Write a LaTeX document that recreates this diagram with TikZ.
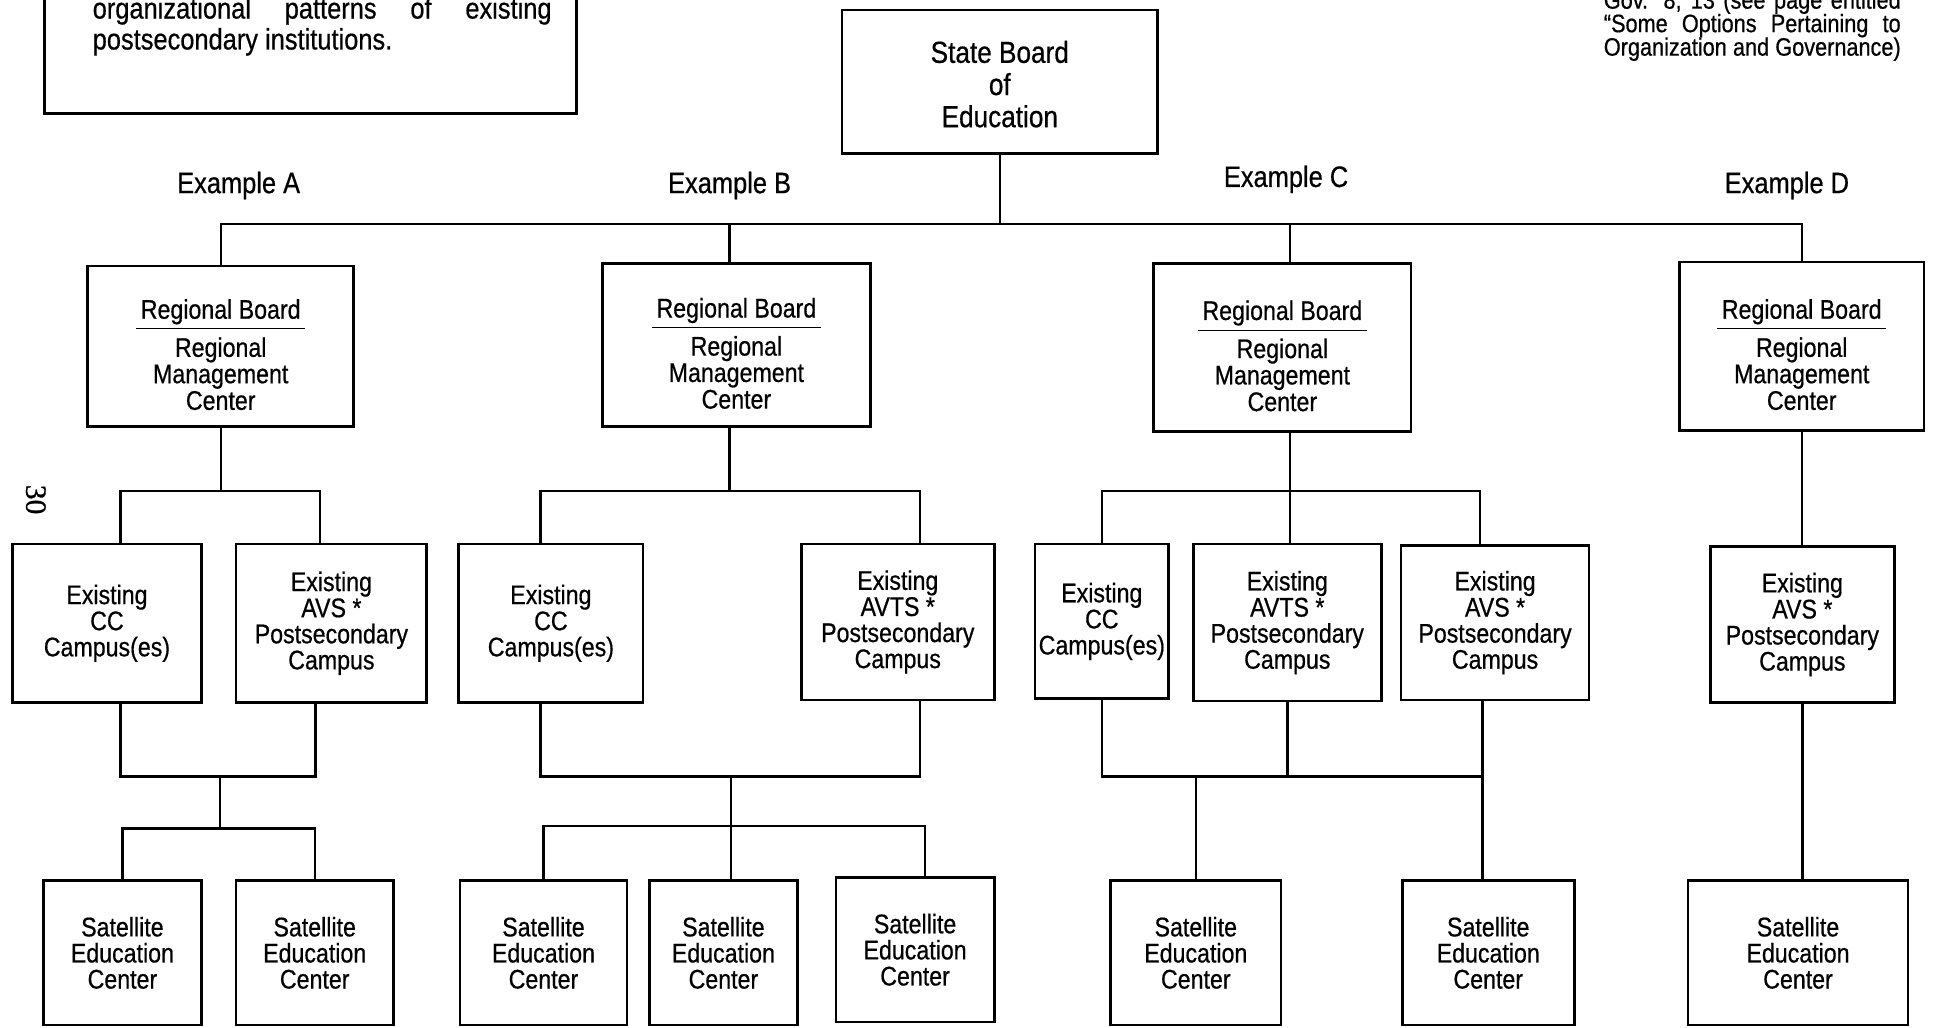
\documentclass[tikz,border=0pt]{standalone}
\usepackage{fontspec}
\setmainfont{Liberation Sans}[FakeStretch=0.86,FakeBold=0.6]
\newfontfamily\orgserif{Liberation Serif}[FakeBold=0.8]

\newcommand{\orgboxfont}{\fontsize{15.5}{15}\selectfont}
\newcommand{\orgstatefont}{\fontsize{17.5}{18.5}\selectfont}
\newcommand{\orgexfont}{\fontsize{17}{18}\selectfont}
\newcommand{\orgnotefont}{\fontsize{17}{18}\selectfont}
\newcommand{\orggovfont}{\fontsize{14.5}{14}\selectfont}
% lower the visible text of a box without changing its size
\newcommand{\orglower}[2]{\raisebox{-#1}[\height][\depth]{\begin{tabular}{@{\,}c@{\,}}#2\end{tabular}}}
\newcommand{\orgregtext}{\orglower{7pt}{Regional Board\\[1pt]\hline
  \rule{0pt}{16pt}Regional\\Management\\Center}}

\begin{document}
\begin{tikzpicture}[x=0.025cm,y=-0.025cm,line width=1.4pt,
    box/.style={draw,line width=1.5pt,inner sep=0pt,align=center,font=\orgboxfont},
    sized/.style 2 args={minimum width=#1*0.025cm,minimum height=#2*0.025cm},
    exlabel/.style={font=\orgexfont},
    note/.style={anchor=base west,inner sep=0pt,font=\orgnotefont},
    gov/.style={anchor=base west,inner sep=0pt,font=\orggovfont}
    ]
    \useasboundingbox (0,0) rectangle (1568,831);
    \clip (0,0) rectangle (1568,831);

    %note box, cut off at the top of the page
    \draw[line width=1.6pt] (36,-10) rectangle (466,92);
    \node[note] (noteA) at (74,15) {\makebox[9.275cm][s]{organizational patterns of existing}};
    \node[note] (noteB) at (74,40) {postsecondary institutions.};

    %reference note, top right
    \node[gov] (govA) at (1296,7) {\makebox[6.0cm][s]{Gov. 8, 13 (see page entitled}};
    \node[gov] (govB) at (1296,26) {\makebox[6.0cm][s]{“Some Options Pertaining to}};
    \node[gov] (govC) at (1296,45) {\makebox[6.0cm][s]{Organization and Governance)}};

    %page number
    \node[rotate=-90,font=\orgserif\fontsize{17}{17}\selectfont] (pagenum) at (29,404) {30};

    %top of the chart
    \node[box,sized={255}{116},font=\orgstatefont] (state) at (808.5,66) {\orglower{4pt}{State Board\\of\\Education}};

    \node[exlabel] (exA) at (193,150) {Example A};
    \node[exlabel] (exB) at (590,150) {Example B};
    \node[exlabel] (exC) at (1040,145) {Example C};
    \node[exlabel] (exD) at (1445,150) {Example D};

    %regional boards
    \node[box,sized={215}{130}] (regA) at (178.5,280) {\orgregtext};
    \node[box,sized={217}{132}] (regB) at (595.5,279) {\orgregtext};
    \node[box,sized={208}{136}] (regC) at (1037,281) {\orgregtext};
    \node[box,sized={198}{136}] (regD) at (1457,280) {\orgregtext};

    %existing campuses
    \node[box,sized={153}{128}] (ccA) at (86.5,504) {Existing\\CC\\Campus(es)};
    \node[box,sized={154}{128}] (avsA) at (268,504) {Existing\\AVS *\\Postsecondary\\Campus};
    \node[box,sized={149}{128}] (ccB) at (445.5,504) {Existing\\CC\\Campus(es)};
    \node[box,sized={156}{126}] (avtsB) at (726,503) {Existing\\AVTS *\\Postsecondary\\Campus};
    \node[box,sized={108}{125}] (ccC) at (891,502.5) {Existing\\CC\\Campus(es)};
    \node[box,sized={152}{127}] (avtsC) at (1041,503.5) {Existing\\AVTS *\\Postsecondary\\Campus};
    \node[box,sized={152}{125}] (avsC) at (1209,503.5) {Existing\\AVS *\\Postsecondary\\Campus};
    \node[box,sized={149}{126}] (avsD) at (1457.5,505) {Existing\\AVS *\\Postsecondary\\Campus};

    %satellite centers
    \node[box,sized={128}{117}] (satA1) at (99,770.5) {Satellite\\Education\\Center};
    \node[box,sized={127}{117}] (satA2) at (254.5,770.5) {Satellite\\Education\\Center};
    \node[box,sized={135}{117}] (satB1) at (439.5,770.5) {Satellite\\Education\\Center};
    \node[box,sized={120}{117}] (satB2) at (585,770.5) {Satellite\\Education\\Center};
    \node[box,sized={128}{117}] (satB3) at (740,768) {Satellite\\Education\\Center};
    \node[box,sized={138}{117}] (satC1) at (967,770.5) {Satellite\\Education\\Center};
    \node[box,sized={139}{117}] (satC2) at (1203.5,770.5) {Satellite\\Education\\Center};
    \node[box,sized={178}{117}] (satD) at (1454,770.5) {Satellite\\Education\\Center};

    %junctions
    \coordinate (topbus) at (808,181);
    \coordinate (busA) at (178,397);
    \coordinate (midA) at (178,628);
    \coordinate (satbusA) at (178,670);
    \coordinate (busB) at (590,397);
    \coordinate (midB) at (591,628);
    \coordinate (satbusB) at (591,668);
    \coordinate (busC) at (1043,397);
    \coordinate (rightC) at (1199,628);

    %state board to the regions
    \draw (state.south) -- (state.south |- topbus);
    \draw (regA.north) |- (topbus) -| (regD.north);
    \draw (topbus -| busB) -- (busB |- regB.north);
    \draw (topbus -| busC) -- (busC |- regC.north);

    %Example A
    \draw (regA.south) -- (regA.south |- busA);
    \draw ([xshift=0.275cm]ccA.north) |- (busA) -| ([xshift=-0.225cm]avsA.north);
    \draw ([xshift=0.275cm]ccA.south) |- (midA) -| ([xshift=-0.325cm]avsA.south);
    \draw (midA) -- (satbusA);
    \draw (satA1.north) |- (satbusA) -| (satA2.north);

    %Example B
    \draw (busB |- regB.south) -- (busB);
    \draw ([xshift=-0.21cm]ccB.north) |- (busB) -| ([xshift=0.45cm]avtsB.north);
    \draw ([xshift=-0.21cm]ccB.south) |- (midB) -| ([xshift=0.45cm]avtsB.south);
    \draw (midB) -- (satbusB);
    \draw (satB1.north) |- (satbusB) -| ([xshift=0.2cm]satB3.north);
    \draw (satbusB) -- (satbusB |- satB2.north);

    %Example C
    \draw (busC |- regC.south) -- (busC |- avtsC.north);
    \draw (ccC.north) |- (busC) -| ([xshift=-0.3cm]avsC.north);
    \draw (ccC.south) |- (rightC);
    \draw (rightC |- avsC.south) -- (rightC |- satC2.north);
    \draw (avtsC.south) -- (avtsC.south |- rightC);
    \draw (satC1.north) -- (satC1.north |- rightC);

    %Example D
    \draw (regD.south) -- (regD.south |- avsD.north);
    \draw (avsD.south) -- (avsD.south |- satD.north);
\end{tikzpicture}
\end{document}
